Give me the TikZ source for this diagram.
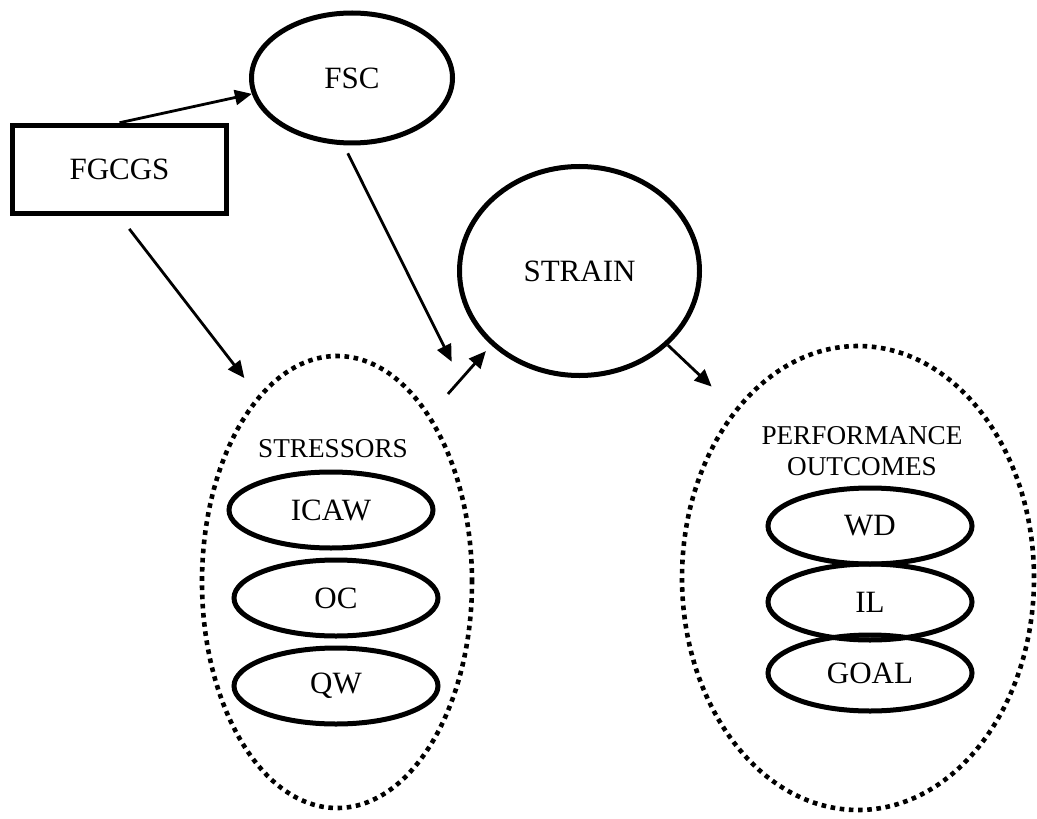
\documentclass[tikz,border=0pt]{standalone}
\usepackage{fontspec}
\setmainfont{Liberation Serif}
\usetikzlibrary{shapes.geometric,arrows.meta,calc}

\begin{document}
\begin{tikzpicture}[x=0.5pt,y=-0.5pt,
	lbl/.style={font=\fontsize{15.5}{18}\selectfont},
	grplbl/.style={font=\fontsize{13.6}{15.5}\selectfont,align=center},
	boxnode/.style={draw,line width=2.75pt,inner sep=0pt,minimum width=107pt,minimum height=44pt,lbl},
	ovalnode/.style={draw,ellipse,line width=2.5pt,inner sep=0pt,lbl},
	smalloval/.style={ovalnode,minimum width=102pt,minimum height=38pt},
	groupoval/.style={draw,ellipse,line width=2.3pt,dash pattern=on 2.3pt off 2.3pt,inner sep=0pt},
	pil/.style={-{Triangle[length=8.5pt,width=7.5pt]},line width=1.4pt}]
	\useasboundingbox (0,0) rectangle (1037,818);
	%			Khung ngoai
	\node[groupoval,minimum width=135pt,minimum height=226pt] (stressors) at (337,582) {};
	\node[groupoval,minimum width=176pt,minimum height=232pt] (perf) at (858,578) {};
	%			Nut chinh
	\node[boxnode] (fgcgs) at (119.5,169.5) {FGCGS};
	\node[ovalnode,minimum width=100.5pt,minimum height=65pt] (fsc) at (352,78) {FSC};
	\node[ovalnode,minimum width=120pt,minimum height=104.5pt] (strain) at (579.5,271) {STRAIN};
	%			Stressors
	\node[grplbl] (stresslbl) at (333,449) {STRESSORS};
	\node[smalloval] (icaw) at (331,510) {ICAW};
	\node[smalloval] (oc) at (336,598) {OC};
	\node[smalloval] (qw) at (336,686) {QW};
	%			Performance outcomes
	\node[grplbl] (perflbl) at (862,451.5) {PERFORMANCE\\OUTCOMES};
	\node[smalloval] (wd) at (870,526) {WD};
	\node[smalloval] (il) at (870,602) {IL};
	\node[smalloval] (goal) at (870,673) {GOAL};
	%			Mui ten
	\coordinate (mod) at ($(stressors.61)!0.5!(strain.220)$);
	\draw[pil] (fgcgs.north) -- (fsc.189);
	\draw[pil,shorten <=8pt,shorten >=11pt] (fgcgs.south) -- (stressors.113);
	\draw[pil,shorten <=4.5pt,shorten >=10pt] (fsc.263) -- (mod);
	\draw[pil,shorten <=13.5pt,shorten >=4pt] (stressors.61) -- (strain.220);
	\draw[pil,shorten >=16pt] (strain.320) -- (perf.126);
\end{tikzpicture}
\end{document}
